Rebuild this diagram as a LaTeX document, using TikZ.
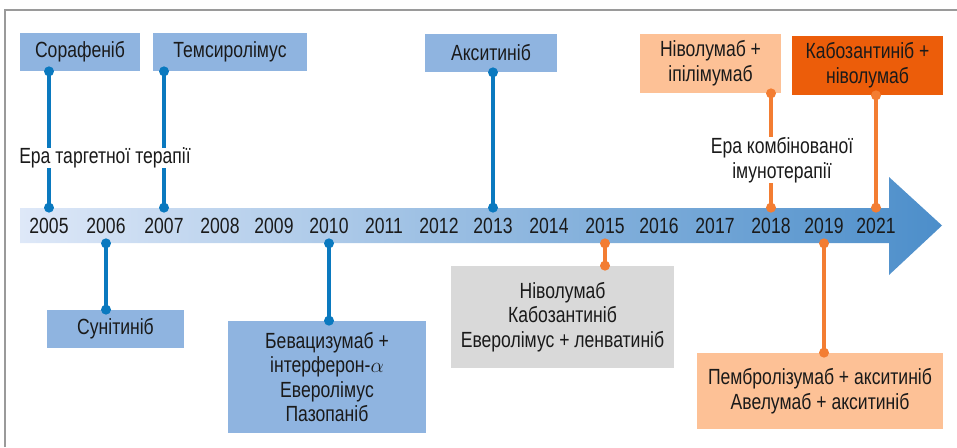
\documentclass[tikz,border=0pt]{standalone}
\usepackage{fontspec}
\setmainfont{Liberation Sans}[FakeStretch=0.8]
\usepackage{tikz}
\usetikzlibrary{calc}

\definecolor{ink}{HTML}{1A1A1A}
\definecolor{boxblue}{HTML}{8FB4E0}
\definecolor{boxpeach}{HTML}{FDC196}
\definecolor{boxorange}{HTML}{EC5D0A}
\definecolor{boxgrey}{HTML}{D9D9D9}
\definecolor{pinblue}{HTML}{0A79BF}
\definecolor{pinorange}{HTML}{F37D32}
\definecolor{bandL}{HTML}{DEE8F8}
\definecolor{bandR}{HTML}{4C8ECA}
\definecolor{framegrey}{HTML}{9A9A9A}

% stem with a dot at both ends
\newcommand\pin[3]{%
  \draw[line width=1.9pt, #1] (#2) -- (#3);
  \fill[#1] (#2) circle[radius=0.1cm] (#3) circle[radius=0.1cm];}

\begin{document}
\begin{tikzpicture}[x=0.02cm, y=-0.02cm, font=\fontsize{12.5}{14}\selectfont, text=ink,
  yr/.style={inner sep=0pt, minimum height=0.7cm},
  card/.style={inner sep=2pt, align=center},
  era/.style={fill=white, inner xsep=1pt, inner ysep=0pt, align=center}]
  \useasboundingbox (0,0) rectangle (957,447);
  \draw[framegrey, line width=0.9pt] (5,447) -- (5,10) -- (957,10);

  % timeline arrow
  \shade[left color=bandL, right color=bandR]
    (20,208) -- (889,208) -- (889,177) -- (942,225.5) -- (889,275)
    -- (889,243) -- (20,243) -- cycle;
  \foreach \yr/\px in {2005/49, 2006/106, 2007/164, 2008/220, 2009/274,
      2010/329, 2011/384, 2012/439, 2013/493, 2014/549, 2015/605,
      2016/659, 2017/715, 2018/771, 2019/824, 2021/876}
    \node[yr] (y\yr) at (\px,225.5) {\yr};

  % above the line
  \node[card, fill=boxblue, minimum width=2.4cm, minimum height=0.76cm] (sor) at (80,52) {Сорафеніб};
  \node[card, fill=boxblue, minimum width=3.08cm, minimum height=0.76cm] (tem) at (230,52) {Темсиролімус};
  \node[card, fill=boxblue, minimum width=2.64cm, minimum height=0.76cm] (aks) at (491,53) {Акситиніб};
  \node[card, fill=boxpeach, minimum width=2.82cm, minimum height=1.18cm] (nip) at (710.5,63.5) {Ніволумаб +\\іпілімумаб};
  \node[card, fill=boxorange, minimum width=3.02cm, minimum height=1.18cm] (kab) at (867.5,65.5) {Кабозантиніб +\\ніволумаб};

  % below the line
  \node[card, fill=boxblue, minimum width=2.74cm, minimum height=0.76cm] (sun) at (115.5,329) {Сунітиніб};
  \node[card, fill=boxblue, minimum width=3.96cm, minimum height=2.24cm] (bev) at (327,377)
    {Бевацизумаб +\\інтерферон-$\alpha$\\Еверолімус\\Пазопаніб};
  \node[card, fill=boxgrey, minimum width=4.46cm, minimum height=2.04cm] (niv) at (562.5,317)
    {Ніволумаб\\Кабозантиніб\\Еверолімус + ленватиніб};
  \node[card, fill=boxpeach, minimum width=4.92cm, minimum height=1.52cm] (pem) at (820,391)
    {Пембролізумаб + акситиніб\\Авелумаб + акситиніб};

  \pin{pinblue}{sor.south -| y2005}{y2005.north}
  \pin{pinblue}{tem.south -| y2007}{y2007.north}
  \pin{pinblue}{aks.south -| y2013}{y2013.north}
  \pin{pinorange}{nip.south -| y2018}{y2018.north}
  \pin{pinorange}{kab.south -| y2021}{y2021.north}
  \pin{pinblue}{y2006.south}{sun.north -| y2006}
  \pin{pinblue}{y2010.south}{bev.north -| y2010}
  \pin{pinorange}{y2015.south}{niv.north -| y2015}
  \pin{pinorange}{y2019.south}{pem.north -| y2019}

  % eras
  \node[era] (tgt) at (105,158) {Ера таргетної терапії};
  \node[era] (imm) at (782,160) {Ера комбінованої\\імунотерапії};
\end{tikzpicture}
\end{document}
